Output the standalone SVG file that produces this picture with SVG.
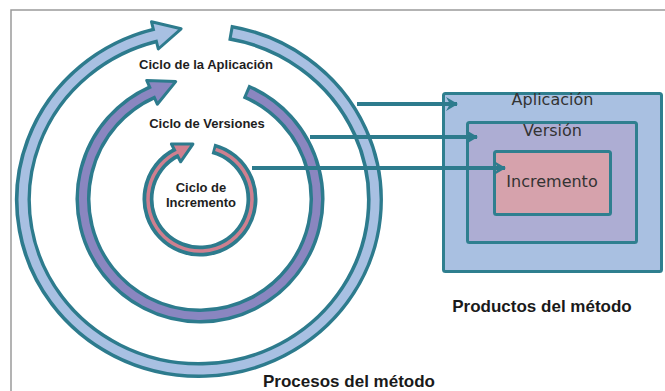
<svg xmlns="http://www.w3.org/2000/svg" width="665" height="391" viewBox="0 0 665 391">
<style>
.dark{fill:none;stroke:#2d7b8d;stroke-linecap:butt}
.head{stroke:#2d7b8d;stroke-width:3;stroke-linejoin:round}
.lbl{font-family:"Liberation Sans",Arial,sans-serif;font-weight:bold;font-size:13px;fill:#1e1e1e;text-anchor:middle}
.big{font-family:"Liberation Sans",Arial,sans-serif;font-weight:bold;font-size:17px;fill:#1a1a1a;text-anchor:middle}
.box{stroke:#2f7f8f;stroke-width:3}
.btxt{font-family:"DejaVu Sans",sans-serif;font-size:16px;fill:#333;text-anchor:middle}
.conn{fill:none;stroke:#2d7b8d;stroke-width:4}
</style>
<defs>
<marker id="arr" markerUnits="userSpaceOnUse" markerWidth="12" markerHeight="14" viewBox="0 0 12 14" refX="11" refY="7" orient="auto">
<path d="M0,0 L12,7 L0,14 L4,7 z" fill="#2d7b8d"/>
</marker>
</defs>
<rect width="665" height="391" fill="#fff"/>
<path d="M11 391 V10 H665" fill="none" stroke="#9a9a9a" stroke-width="1.5"/>

<g id="ciclo-aplicacion">
<path class="dark" stroke-width="16" d="M229.6 32.6 A176 170 0 1 1 154.9 35.4"/>
<polygon class="head" fill="#a8c0e2" points="158.3,49 181.1,28.8 151.5,21.8"/>
<path fill="none" stroke="#a8c0e2" stroke-width="9" d="M232.6 33.1 A176 170 0 1 1 157.9 34.7"/>
<text class="lbl" x="206" y="69">Ciclo de la Aplicación</text>
</g>

<g id="ciclo-versiones">
<path class="dark" stroke-width="15" d="M245.7 91.3 A117 117 0 1 1 152 92.3"/>
<polygon class="head" fill="#8a86c0" points="157.3,104.2 175.7,81.6 146.7,80.4"/>
<path fill="none" stroke="#8a86c0" stroke-width="8" d="M248.5 92.5 A117 117 0 1 1 154.7 91.1"/>
<text class="lbl" x="207" y="128">Ciclo de Versiones</text>
</g>

<g id="ciclo-incremento">
<path class="dark" stroke-width="11" d="M213 148.7 A52 52 0 1 1 176 152.9"/>
<polygon class="head" fill="#cf7f8f" points="180.6,161.8 192.9,144.1 171.4,144"/>
<path fill="none" stroke="#cf7f8f" stroke-width="3.5" d="M215.6 149.4 A52 52 0 1 1 178.9 151.5"/>
<text class="lbl" x="201" y="192">Ciclo de</text>
<text class="lbl" x="201" y="207">Incremento</text>
</g>

<g id="procesos">
<text class="big" x="349" y="387">Procesos del método</text>
</g>

<g id="aplicacion">
<rect class="box" x="443.5" y="93.5" width="218" height="178" rx="2" fill="#a9c0e1"/>
<text class="btxt" x="552.5" y="105">Aplicación</text>
</g>
<g id="version">
<rect class="box" x="467.5" y="122.5" width="169" height="120" rx="2" fill="#adadd3"/>
<text class="btxt" x="552.5" y="136">Versión</text>
</g>
<g id="incremento">
<rect class="box" x="494.5" y="151.5" width="116" height="63" rx="2" fill="#d6a2ac"/>
<text class="btxt" x="552" y="187">Incremento</text>
</g>
<g id="productos">
<text class="big" x="542" y="312">Productos del método</text>
</g>

<g id="connectors">
<line class="conn" x1="357" y1="104" x2="457" y2="104" marker-end="url(#arr)"/>
<line class="conn" x1="310" y1="137" x2="477" y2="137" marker-end="url(#arr)"/>
<line class="conn" x1="252" y1="168" x2="505" y2="168" stroke="#4f95a5" stroke-width="3.5" marker-end="url(#arr)"/>
</g>
</svg>
